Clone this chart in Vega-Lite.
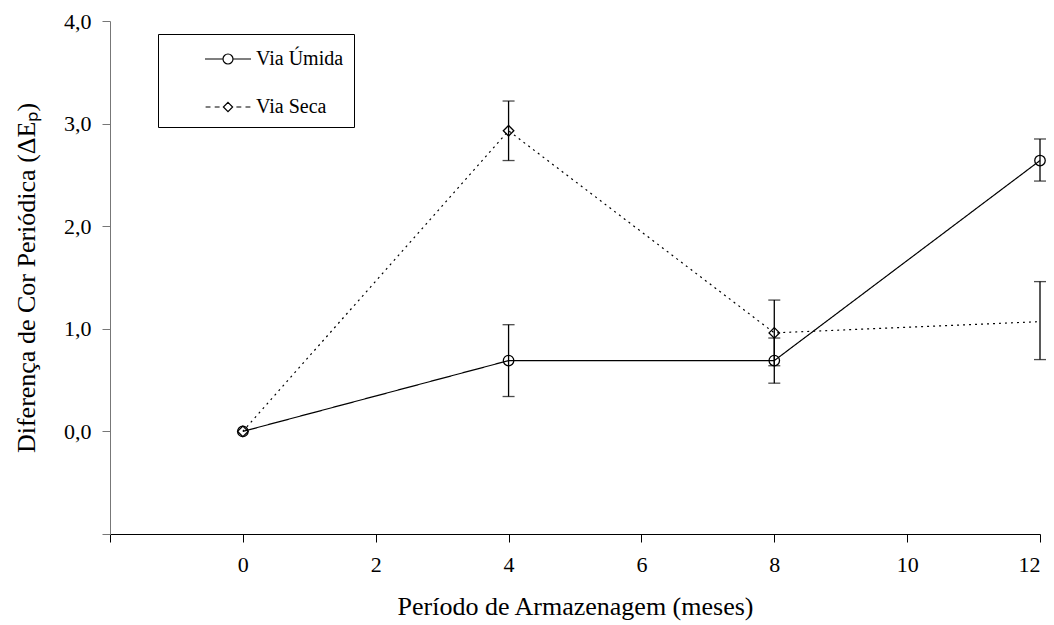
{
  "$schema": "https://vega.github.io/schema/vega-lite/v6.json",
  "width": 930,
  "height": 513,
  "autosize": "none",
  "padding": {"left": 110, "top": 21, "right": 14, "bottom": 91},
  "background": "white",
  "data": {
    "values": [
      {"serie": "Via Úmida", "mes": 0, "valor": 0.0, "lo": null, "hi": null},
      {"serie": "Via Úmida", "mes": 4, "valor": 0.69, "lo": 0.34, "hi": 1.04},
      {"serie": "Via Úmida", "mes": 8, "valor": 0.69, "lo": 0.47, "hi": 0.91},
      {"serie": "Via Úmida", "mes": 12, "valor": 2.64, "lo": 2.44, "hi": 2.85},
      {"serie": "Via Seca", "mes": 0, "valor": 0.0, "lo": null, "hi": null},
      {"serie": "Via Seca", "mes": 4, "valor": 2.93, "lo": 2.64, "hi": 3.22},
      {"serie": "Via Seca", "mes": 8, "valor": 0.96, "lo": 0.64, "hi": 1.28},
      {"serie": "Via Seca", "mes": 12, "valor": 1.07, "lo": 0.70, "hi": 1.46}
    ]
  },
  "encoding": {
    "x": {
      "field": "mes", "type": "quantitative",
      "scale": {"domain": [-2, 12], "nice": false, "zero": false},
      "axis": {
        "values": [-2, 0, 2, 4, 6, 8, 10, 12],
        "labelExpr": "datum.value < 0 ? '' : datum.label",
        "title": "Período de Armazenagem (meses)",
        "domainColor": "black", "tickColor": "black", "tickSize": 8,
        "labelFontSize": 22, "titleFontSize": 26,
        "labelPadding": 12, "titlePadding": 18
      }
    }
  },
  "layer": [
    {
      "mark": {"type": "rule", "stroke": "black", "strokeWidth": 1.3},
      "transform": [{"filter": "datum.lo != null"}],
      "encoding": {
        "y": {"field": "lo", "type": "quantitative"},
        "y2": {"field": "hi"}
      }
    },
    {
      "mark": {"type": "tick", "orient": "horizontal", "color": "black", "size": 12, "thickness": 1.3},
      "transform": [{"filter": "datum.lo != null"}],
      "encoding": {"y": {"field": "lo", "type": "quantitative"}}
    },
    {
      "mark": {"type": "tick", "orient": "horizontal", "color": "black", "size": 12, "thickness": 1.3},
      "transform": [{"filter": "datum.hi != null"}],
      "encoding": {"y": {"field": "hi", "type": "quantitative"}}
    },
    {
      "mark": {"type": "line", "stroke": "black", "strokeWidth": 1.2},
      "encoding": {
        "y": {"field": "valor", "type": "quantitative"},
        "detail": {"field": "serie"},
        "strokeDash": {
          "field": "serie", "type": "nominal",
          "scale": {"domain": ["Via Úmida", "Via Seca"], "range": [[1, 0], [2, 4]]},
          "legend": null
        }
      }
    },
    {
      "mark": {"type": "point", "stroke": "black", "strokeWidth": 1.3, "filled": false, "fill": "transparent", "opacity": 1},
      "transform": [{"filter": "!(datum.serie == 'Via Seca' && datum.mes == 12)"}],
      "encoding": {
        "y": {
          "field": "valor", "type": "quantitative",
          "scale": {"domain": [-1, 4], "nice": false, "zero": false},
          "axis": {
            "values": [-1, 0, 1, 2, 3, 4],
            "labelExpr": "datum.value < 0 ? '' : replace(format(datum.value, '.1f'), '.', ',')",
            "title": "Diferença de Cor Periódica (ΔEₚ)",
            "domainColor": "#777777", "tickColor": "#777777", "tickSize": 8,
            "labelFontSize": 22, "titleFontSize": 26,
            "labelPadding": 11, "titlePadding": 24
          }
        },
        "shape": {
          "field": "serie", "type": "nominal",
          "scale": {"domain": ["Via Úmida", "Via Seca"], "range": ["circle", "diamond"]},
          "legend": null
        },
        "size": {"value": 110}
      }
    },
    {
      "mark": {"type": "point", "stroke": "black", "strokeWidth": 1.2, "filled": false, "fill": "transparent", "opacity": 1},
      "transform": [{"filter": "false"}],
      "encoding": {
        "shape": {
          "field": "serie", "type": "nominal",
          "scale": {"domain": ["Via Úmida", "Via Seca"], "range": [
            "M-1.643,0H-0.357M0.357,0H1.643M0.357,0A0.357,0.357 0 1,1 -0.357,0A0.357,0.357 0 1,1 0.357,0",
            "M-1.6,0H-1.25M-0.95,0H-0.6M0.6,0H0.95M1.25,0H1.6M0,-0.33L0.33,0L0,0.33L-0.33,0Z"
          ]},
          "legend": {
            "title": null,
            "orient": "none",
            "legendX": 48,
            "legendY": 13,
            "direction": "vertical",
            "strokeColor": "black",
            "fillColor": "white",
            "padding": 10,
            "symbolOffset": 45,
            "symbolSize": 784,
            "symbolStrokeWidth": 1.2,
            "symbolStrokeColor": "black",
            "symbolFillColor": "transparent",
            "labelFont": "Liberation Serif",
            "labelFontSize": 20,
            "labelColor": "black",
            "labelOffset": 13,
            "rowPadding": 23
          }
        }
      }
    }
  ],
  "resolve": {"scale": {"shape": "independent"}},
  "config": {
    "view": {"stroke": null},
    "font": "Liberation Serif",
    "style": {"guide-label": {"font": "Liberation Serif"}},
    "axis": {"grid": false, "labelFont": "Liberation Serif", "titleFont": "Liberation Serif", "labelColor": "black", "titleColor": "black", "titleFontWeight": "normal"}
  }
}
